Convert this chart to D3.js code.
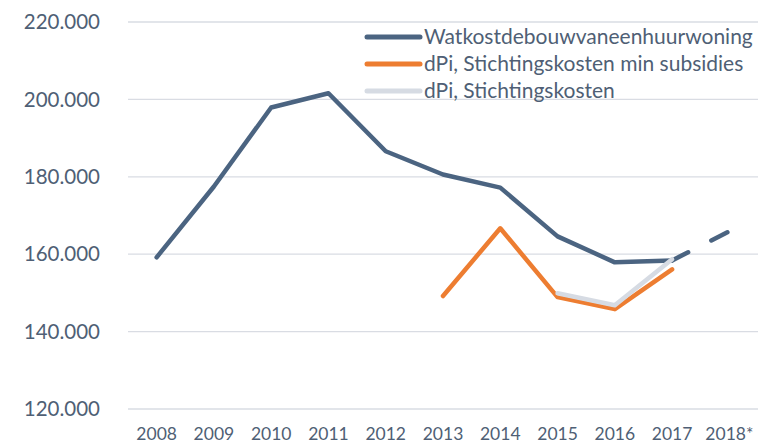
<!DOCTYPE html>
<html>
<head>
<meta charset="utf-8">
<script src="https://cdn.jsdelivr.net/npm/d3@7"></script>
<style>
  body { margin: 0; background: #fff; }
  text { font-family: Lato, "Open Sans", sans-serif; fill: #4f5f75; }
</style>
</head>
<body>
<div id="graphic"></div>
<script>
// categories and series
var years = ["2008", "2009", "2010", "2011", "2012", "2013", "2014", "2015", "2016", "2017", "2018*"];
var watkost = [159200, 177500, 197900, 201600, 186600, 180600, 177200, 164600, 157900, 158400, 165900];
var dpiMin = [null, null, null, null, null, 149200, 166700, 148900, 145800, 156100, null];
var dpi = [null, null, null, null, null, null, null, 149900, 146800, 158700, null];
var yTicks = [120000, 140000, 160000, 180000, 200000, 220000];
var legendNames = ["Watkostdebouwvaneenhuurwoning", "dPi, Stichtingskosten min subsidies", "dPi, Stichtingskosten"];

var w = 776, h = 445;
var plotLeft = 128, plotRight = 758, plotTop = 22, plotBottom = 409;

var svg = d3.select("#graphic")
    .append("svg")
    .attr("width", w)
    .attr("height", h);

var xScale = d3.scaleBand()
    .domain(years)
    .range([plotLeft, plotRight]);
var yScale = d3.scaleLinear()
    .domain([120000, 220000])
    .range([plotBottom, plotTop]);

function fmt(v) {
    return d3.format(",")(v).replace(/,/g, ".");
}

// gridlines
svg.append("g")
   .selectAll("line")
   .data(yTicks)
   .enter()
   .append("line")
   .attr("x1", plotLeft)
   .attr("x2", plotRight)
   .attr("y1", function(d){ return yScale(d); })
   .attr("y2", function(d){ return yScale(d); })
   .attr("stroke", "#d9dce3")
   .attr("stroke-width", 1.3);

// y labels
svg.append("g")
   .selectAll("text")
   .data(yTicks)
   .enter()
   .append("text")
   .attr("x", 100)
   .attr("y", function(d){ return yScale(d); })
   .attr("dy", "0.35em")
   .attr("text-anchor", "end")
   .style("font-size", "20.5px")
   .text(fmt);

// x labels
svg.append("g")
   .selectAll("text")
   .data(years)
   .enter()
   .append("text")
   .attr("x", function(d){ return xScale(d) + xScale.bandwidth() / 2; })
   .attr("y", 434)
   .attr("dy", "0.35em")
   .attr("text-anchor", "middle")
   .style("font-size", "17.5px")
   .text(function(d){ return d; });

function cx(i) { return xScale(years[i]) + xScale.bandwidth() / 2; }

var line = d3.line()
    .defined(function(d){ return d != null; })
    .x(function(d, i){ return cx(i); })
    .y(function(d){ return yScale(d); });

function drawLine(values, color, dash) {
    svg.append("path")
       .datum(values)
       .attr("d", line)
       .attr("fill", "none")
       .attr("stroke", color)
       .attr("stroke-width", 4.5)
       .attr("stroke-linejoin", "round")
       .attr("stroke-linecap", "round")
       .attr("stroke-dasharray", dash || null);
}

// solid part of main series (through 2017), dashed forecast to 2018*
var solidPart = watkost.map(function(d, i){ return i <= 9 ? d : null; });
var dashedPart = watkost.map(function(d, i){ return i >= 9 ? d : null; });
drawLine(solidPart, "#4b6481");
drawLine(dashedPart, "#4b6481", "18 26");
drawLine(dpiMin, "#ed7d31");
drawLine(dpi, "#d6dbe3");

// legend
var colors = ["#4b6481", "#ed7d31", "#d6dbe3"];
var lg = svg.append("g");
legendNames.forEach(function(name, i){
    var y = 37 + i * 27;
    lg.append("line")
      .attr("x1", 367).attr("x2", 420)
      .attr("y1", y).attr("y2", y)
      .attr("stroke", colors[i])
      .attr("stroke-width", 5)
      .attr("stroke-linecap", "round");
    lg.append("text")
      .attr("x", 424)
      .attr("y", y)
      .attr("dy", "0.35em")
      .style("font-size", "21px")
      .text(name);
});
</script>
</body>
</html>
